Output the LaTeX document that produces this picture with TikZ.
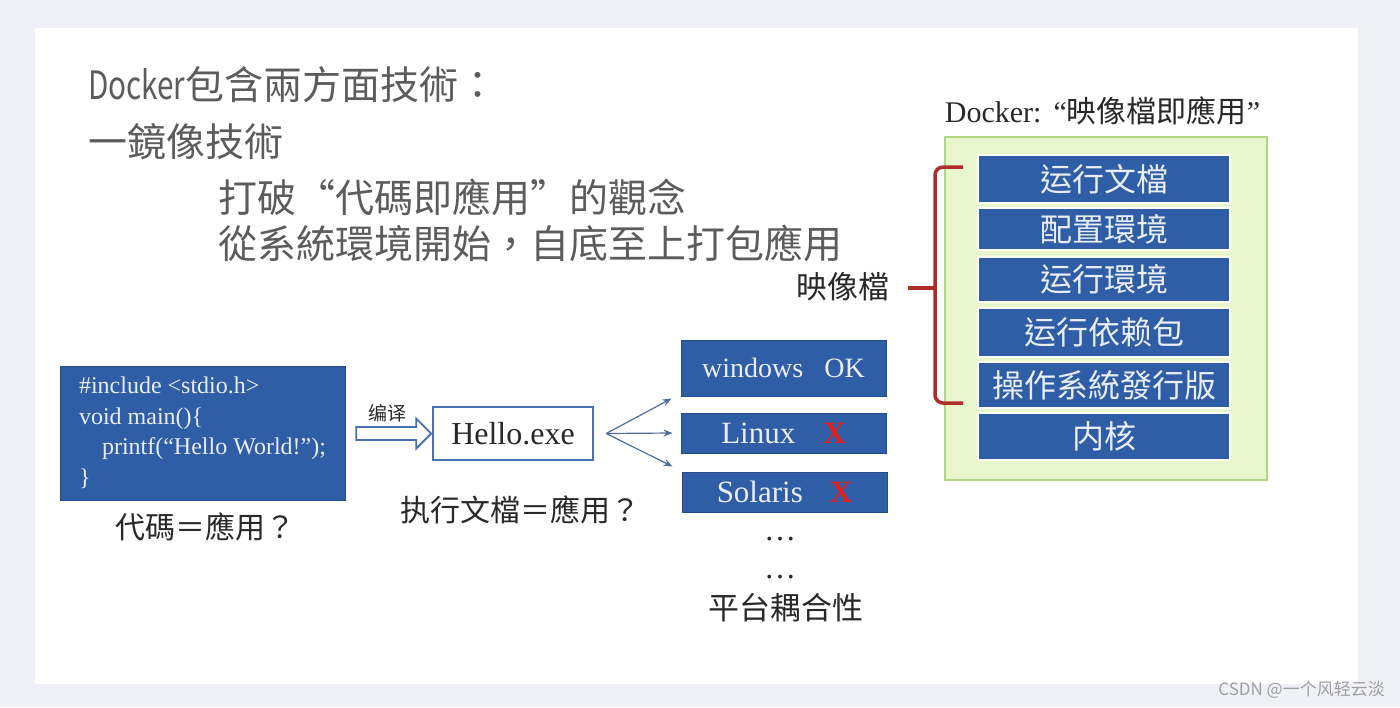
\documentclass[tikz,border=0pt]{standalone}
\usepackage{fontspec}
\setmainfont{Liberation Serif}
\newfontfamily\cjk{Noto Sans CJK TC}
\newfontfamily\cjksc{Noto Sans CJK SC}
\newfontfamily\narrowsans[FakeStretch=0.76]{Noto Sans CJK TC}
\usepackage{xcolor}
\usepackage{tikz}
\usetikzlibrary{arrows.meta, positioning, shapes.arrows, calc}
\definecolor{pagebg}{RGB}{239,241,247}
\definecolor{boxblue}{RGB}{47,94,166}
\definecolor{boxedge}{RGB}{36,74,135}
\definecolor{boxtext}{RGB}{232,237,246}
\definecolor{greytext}{RGB}{92,92,92}
\definecolor{darktext}{RGB}{40,40,40}
\definecolor{bracered}{RGB}{176,44,40}
\definecolor{greenfill}{RGB}{232,246,205}
\definecolor{greenedge}{RGB}{178,214,130}
\definecolor{fanblue}{RGB}{80,110,155}
\definecolor{helloblue}{RGB}{70,112,176}
\definecolor{xred}{RGB}{225,30,30}
\newcommand{\fsz}[2]{\fontsize{#1}{#2}\selectfont}

\begin{document}
\begin{tikzpicture}[x=1pt, y=-1pt,
  title/.style={anchor=west, inner sep=0pt, font=\cjk\fsz{39}{46}, text=greytext},
  caption/.style={inner sep=0pt, font=\cjk\fsz{30}{36}, text=darktext},
  bluebox/.style={rectangle, draw=boxedge, fill=boxblue, line width=1pt, text=boxtext, inner sep=0pt},
  platform/.style={bluebox, minimum width=205pt, font=\fsz{31}{36}},
  layer/.style={rectangle, draw=white, fill=boxblue, line width=1.5pt, minimum width=252pt,
                text=boxtext, font=\cjk\fsz{32}{38}, inner sep=0pt},
  fan/.style={-{Stealth[length=9pt, width=7pt]}, draw=fanblue, line width=1.2pt},
  dotrow/.style={font=\fsz{32}{34}, text=darktext, anchor=base, inner sep=0pt}]

  % page
  \fill[pagebg] (0,0) rectangle (1400,707);
  \fill[white] (35,28) rectangle (1358,684);

  % heading text
  \node[title] (head) at (88,85) {{\narrowsans Docker}包含兩方面技術：};
  \node[title] (mirror) at (88,142) {一鏡像技術};
  \node[title] (idea) at (218,197) {打破“代碼即應用”的觀念};
  \node[title] (pack) at (218,243) {從系統環境開始，自底至上打包應用};

  % code -> exe
  \node[bluebox, minimum width=285pt, minimum height=134pt, align=left, font=\fsz{24}{30.5}] (code) at (202.5,433)
    {\#include <stdio.h>\\void main()\{\\\hspace*{23pt}printf(“Hello World!”);\\\}};
  \node[caption] (codecap) at (205,527) {代碼＝應用？};
  \node[single arrow, draw=helloblue, line width=1.8pt, fill=white, minimum width=30pt, minimum height=75pt,
        single arrow head extend=8.5pt, inner xsep=0pt, inner ysep=5.5pt] (compile) at (390.5,433.5) {};
  \node[inner sep=0pt, font=\cjksc\fsz{19}{22}, text=darktext] (cmplabel) at (387,413) {编译};
  \node[rectangle, draw=helloblue, line width=2.5pt, fill=white, minimum width=160pt, minimum height=53pt,
        font=\fsz{32}{38}, text=darktext, inner sep=0pt] (hello) at (513,433.5) {Hello.exe};
  \node[caption] (execcap) at (520,510) {执行文檔＝應用？};

  % platforms
  \node[platform, minimum height=56pt, font=\fsz{28}{34}] (win) at (783.5,368) {windows\hspace{21pt}OK};
  \node[platform, minimum height=40pt] (lin) at (783.5,433) {Linux\hspace{28pt}\textcolor{xred}{\textbf{X}}};
  \node[platform, minimum height=40pt] (sol) at (784.5,492) {Solaris\hspace{27pt}\textcolor{xred}{\textbf{X}}};
  \node[dotrow] (dotsa) at (780,540) {…};
  \node[dotrow] (dotsb) at (780,578) {…};
  \node[caption, font=\cjk\fsz{31}{36}] (coupling) at (786,608) {平台耦合性};

  \coordinate (fanroot) at ($(hello.east)+(12,0)$);
  \draw[fan] (fanroot) -- ([xshift=-9pt,yshift=-2pt]win.south west);
  \draw[fan] (fanroot) -- ([xshift=-8pt]lin.west);
  \draw[fan] (fanroot) -- ([xshift=-9pt,yshift=5pt]sol.north west);

  % image stack
  \node[inner sep=0pt, font=\fsz{30}{36}, text=darktext] (dockhead) at (1102.5,111)
    {Docker:\hspace{12pt}“{\cjk 映像檔即應用}”};
  \node[rectangle, draw=greenedge, fill=greenfill, line width=1.5pt, minimum width=322pt,
        minimum height=343pt] (stack) at (1106,308.5) {};
  \foreach \nm/\txt/\cy/\hh in {run/运行文檔/179/48, conf/配置環境/229/42, env/运行環境/279.5/45,
                                deps/运行依赖包/332.5/49, os/操作系統發行版/385/46, kern/内核/436.5/47}
    \node[layer, minimum height=\hh] (\nm) at (1104,\cy) {\txt};

  \node[caption, font=\cjk\fsz{31}{36}] (imglabel) at (843,287) {映像檔};
  \draw[bracered, line width=3.5pt, rounded corners=8pt] (963,167) -- (935,167) -- (935,403) -- (963,403);
  \draw[bracered, line width=3.5pt] (935,288) -- (908,288);

  % watermark
  \node[anchor=east, inner sep=0pt, font=\cjksc\fsz{17}{20}, text=gray!75] (mark) at (1385,690) {CSDN @一个风轻云淡};
\end{tikzpicture}
\end{document}
